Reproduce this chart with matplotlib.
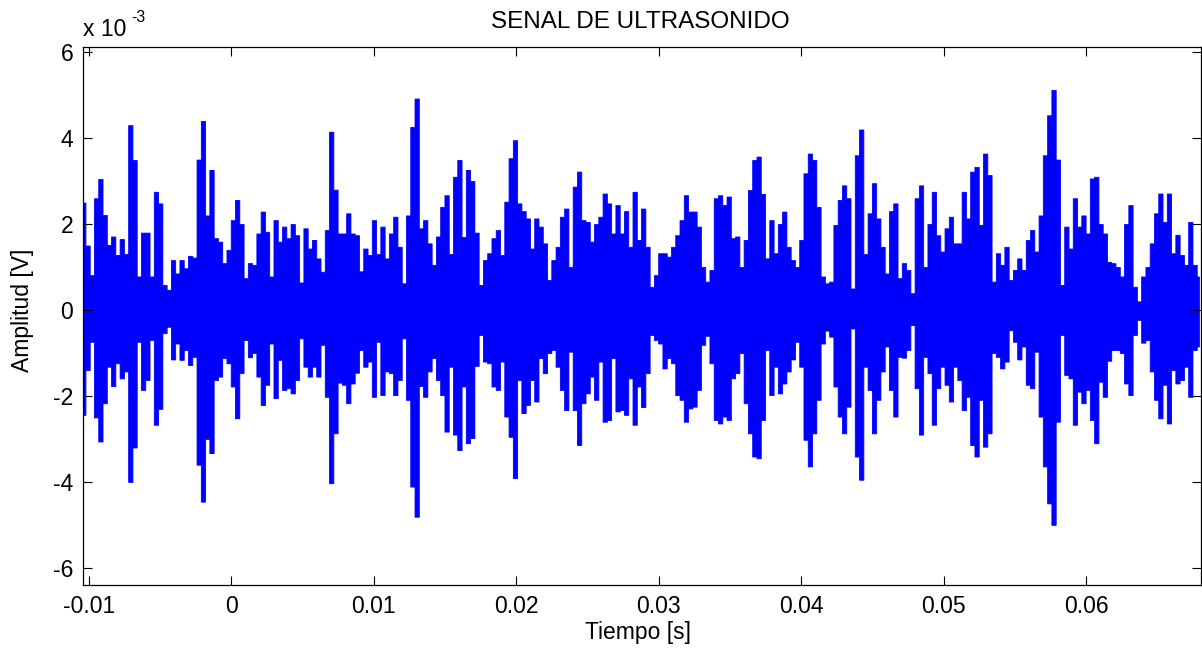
import matplotlib.pyplot as plt
import numpy as np

# envelope of the ultrasound record, one pair every 0.3 ms
# (upper / lower peak amplitude, in units of 1e-3 V)
T0_MS = -10.4
DT_MS = 0.3

UPPER_MV = [
    2.50, 1.5, 0.81, 2.6, 3.05, 2.21, 1.51, 1.71, 1.28, 1.65,
    1.3, 4.3, 3.49, 0.78, 1.8, 1.8, 0.78, 2.75, 2.48, 0.58,
    0.47, 1.16, 0.85, 1.16, 0.97, 1.26, 1.22, 3.5, 4.4, 2.2,
    3.26, 1.67, 1.59, 1.09, 1.4, 2.09, 2.56, 2.0, 0.74, 1.09,
    1.05, 1.78, 2.29, 1.82, 0.78, 2.09, 1.59, 1.94, 1.67, 2.0,
    1.74, 0.64, 1.9, 1.43, 1.63, 1.2, 0.89, 1.86, 4.15, 2.8,
    1.78, 1.78, 2.25, 1.78, 1.74, 0.9, 1.43, 1.28, 2.09, 1.3,
    1.94, 1.2, 1.78, 2.17, 1.47, 0.62, 2.2, 4.26, 4.92, 1.9,
    2.09, 1.55, 1.05, 1.71, 2.4, 2.67, 1.3, 3.1, 3.49, 1.7,
    3.26, 3.0, 1.8, 0.58, 1.16, 1.32, 1.67, 1.86, 1.28, 2.52,
    3.53, 3.95, 2.48, 2.3, 2.13, 1.43, 2.13, 1.94, 1.55, 0.7,
    1.16, 1.47, 2.17, 2.36, 1.0, 2.87, 3.22, 2.09, 2.05, 1.59,
    2.0, 2.17, 2.71, 2.48, 1.78, 2.44, 1.78, 2.3, 1.47, 2.75,
    1.63, 2.36, 1.47, 0.54, 0.81, 1.32, 1.32, 1.24, 1.47, 1.74,
    2.09, 2.67, 2.29, 2.29, 1.94, 1.0, 0.66, 0.93, 2.6, 2.67,
    2.44, 2.64, 1.67, 1.71, 1.0, 1.63, 2.79, 3.49, 3.57, 2.7,
    1.2, 2.09, 1.32, 2.0, 2.29, 1.47, 1.16, 1.0, 1.63, 3.18,
    3.64, 3.49, 2.4, 0.78, 0.62, 0.66, 1.98, 2.56, 2.9, 2.6,
    0.5, 3.6, 4.2, 1.3, 2.25, 2.95, 2.13, 1.47, 0.85, 2.3,
    2.48, 0.74, 1.09, 0.93, 0.39, 2.6, 2.9, 1.0, 2.0, 2.75,
    1.74, 1.36, 1.9, 2.17, 1.55, 1.55, 2.75, 2.13, 3.22, 3.33,
    1.98, 3.64, 3.14, 0.66, 1.32, 1.05, 1.47, 0.7, 0.93, 1.2,
    0.93, 1.63, 1.86, 1.36, 2.2, 3.6, 4.53, 5.12, 3.5, 0.58,
    1.94, 1.43, 2.6, 1.94, 2.2, 1.78, 3.06, 3.1, 2.0, 1.78,
    1.12, 1.09, 1.0, 0.78, 2.0, 2.44, 0.54, 0.2, 0.78, 1.0,
    1.55, 2.25, 2.71, 2.05, 2.71, 1.32, 1.75, 1.28, 1.05, 2.05,
    1.05, 0.78,
]

LOWER_MV = [
    -2.44, -1.4, -0.74, -2.5, -3.06, -2.17, -1.32, -1.77, -1.24, -1.59,
    -1.43, -4.0, -3.2, -0.74, -1.86, -1.63, -0.7, -2.67, -2.3, -0.54,
    -0.39, -1.15, -0.78, -1.16, -0.93, -1.28, -1.09, -3.6, -4.46, -3.0,
    -3.33, -1.63, -1.55, -1.12, -1.24, -1.78, -2.52, -1.47, -0.7, -1.1,
    -1.0, -1.55, -2.21, -1.74, -0.78, -2.05, -1.16, -1.86, -1.82, -1.94,
    -1.63, -0.66, -1.32, -1.55, -1.32, -1.55, -0.81, -2.02, -4.03, -2.87,
    -1.69, -1.74, -2.17, -1.71, -1.46, -0.93, -1.32, -1.2, -2.02, -0.74,
    -1.98, -1.43, -1.47, -1.98, -1.63, -0.66, -2.09, -4.11, -4.81, -1.77,
    -2.02, -1.43, -1.12, -1.63, -1.98, -2.83, -1.32, -2.9, -3.26, -1.78,
    -3.1, -2.98, -1.3, -0.58, -1.2, -1.24, -1.78, -1.86, -1.2, -2.48,
    -2.95, -3.91, -1.63, -2.4, -2.21, -1.63, -2.13, -1.12, -1.47, -1.0,
    -0.93, -1.32, -1.86, -2.33, -0.97, -2.33, -3.14, -2.17, -1.94, -1.55,
    -2.09, -1.2, -2.6, -2.56, -1.12, -2.36, -2.33, -2.44, -1.59, -2.67,
    -1.78, -2.26, -1.47, -0.58, -0.7, -0.78, -1.36, -1.12, -1.24, -1.98,
    -2.09, -2.6, -2.29, -2.25, -1.86, -0.81, -0.6, -1.24, -2.56, -2.64,
    -2.48, -2.56, -1.59, -1.47, -1.0, -2.17, -2.87, -3.41, -3.45, -2.56,
    -0.93, -1.98, -1.32, -1.94, -1.71, -1.43, -1.15, -0.74, -1.32, -3.02,
    -3.64, -2.87, -2.09, -0.78, -0.48, -0.62, -1.78, -2.48, -2.87, -2.25,
    -0.43, -3.41, -3.95, -1.32, -1.86, -2.87, -2.09, -1.43, -0.85, -1.86,
    -2.48, -1.09, -1.11, -0.93, -0.35, -1.82, -2.9, -1.09, -1.47, -2.67,
    -1.82, -1.32, -1.74, -2.13, -1.32, -1.63, -2.33, -2.02, -3.14, -3.41,
    -2.09, -3.18, -2.87, -1.0, -1.09, -1.36, -1.2, -0.47, -0.74, -1.15,
    -0.85, -1.74, -1.82, -0.97, -2.48, -3.64, -4.5, -5.0, -2.6, -0.58,
    -1.51, -1.59, -2.67, -1.9, -2.17, -1.86, -2.56, -3.1, -1.67, -2.02,
    -1.18, -0.93, -0.93, -1.0, -1.71, -1.98, -0.58, -0.23, -0.76, -0.7,
    -1.43, -2.09, -2.52, -1.74, -2.64, -1.4, -1.71, -1.63, -1.32, -2.02,
    -0.93, -0.85,
]

X_TICKS = [-0.01, 0.0, 0.01, 0.02, 0.03, 0.04, 0.05, 0.06]
X_TICK_LABELS = ["-0.01", "0", "0.01", "0.02", "0.03", "0.04", "0.05", "0.06"]
Y_TICKS = [-6, -4, -2, 0, 2, 4, 6]
Y_TICK_LABELS = ["-6", "-4", "-2", "0", "2", "4", "6"]

TITLE = "SENAL DE ULTRASONIDO"
XLABEL = "Tiempo [s]"
YLABEL = "Amplitud [V]"
FS = 16.5


def main():
    plt.rcParams["font.family"] = ["Liberation Sans", "DejaVu Sans"]

    upper = np.array(UPPER_MV)
    lower = np.array(LOWER_MV)
    n = min(len(upper), len(lower))
    t = (T0_MS + DT_MS * np.arange(n)) * 1e-3

    fig = plt.figure(figsize=(12.02, 6.49), dpi=100)
    ax = fig.add_axes([83 / 1202, 1 - 585 / 649, 1118 / 1202, 538 / 649])

    # thin edge in the same blue makes the bursts look as dense as the original
    ax.fill_between(t, lower[:n], upper[:n], step="mid", facecolor="#0000ff",
                    edgecolor="#0000ff", linewidth=0.6)

    ax.set_xlim(-0.01042, 0.06805)
    ax.set_ylim(-6.4, 6.12)
    ax.set_xticks(X_TICKS)
    ax.set_xticklabels(X_TICK_LABELS)
    ax.set_yticks(Y_TICKS)
    ax.set_yticklabels(Y_TICK_LABELS)
    ax.tick_params(direction="in", length=6.5, width=0.8, top=True, right=True,
                   labelsize=FS, pad=7, colors="black")
    for s in ax.spines.values():
        s.set_linewidth(0.9)

    # labels placed in figure coords to match the matlab layout
    fig.text(640 / 1202, 1 - 22 / 649, TITLE, ha="center", va="center",
             fontsize=FS + 1)
    fig.text(638 / 1202, 1 - 633 / 649, XLABEL, ha="center", va="center",
             fontsize=FS)
    fig.text(22 / 1202, 1 - 310 / 649, YLABEL, ha="center", va="center",
             rotation=90, fontsize=FS)
    fig.text(83 / 1202, 1 - 36 / 649, "x 10", ha="left", va="baseline",
             fontsize=FS)
    fig.text(131 / 1202, 1 - 22 / 649, "-3", ha="left", va="baseline",
             fontsize=FS - 5)

    fig.savefig("out.png", dpi=100)


if __name__ == "__main__":
    main()
